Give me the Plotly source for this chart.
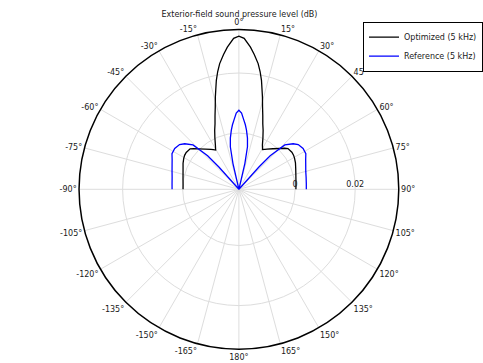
import plotly.graph_objects as go

# Angles (deg, 0 = front, negative = left) and sound pressure level values
theta_opt = [-90, -85, -80, -75, -70, -65, -60.7, -58, -55, -50.3, -48, -45, -40, -35, -33, -30.7,
             -28, -25, -22.3, -20, -18, -16, -14.3, -13, -11.7, -10.2, -8.7, -6.5, -4.65, -2,
             0, 2, 4.65, 6.5, 8.7, 10.2, 11.7, 13, 14.3, 16, 18, 20, 22.3, 25, 28,
             30.7, 33, 35, 40, 45, 48, 50.3, 55, 58, 60.7, 65, 70, 75, 80, 85, 90]
spl_opt = [-0.00013, -0.00007, 0.00017, 0.00053, 0.00106, 0.00179, 0.00233, 0.00259, 0.00269, 0.00239,
           0.00153, 0.00033, -0.00126, -0.00252, -0.00302, -0.00355,
           -0.00206, 0.00020, 0.00252, 0.00452, 0.00701, 0.00983, 0.01302, 0.01548, 0.01834, 0.02113,
           0.02362, 0.02645, 0.02877, 0.03159,
           0.03229, 0.03159, 0.02877, 0.02645, 0.02362, 0.02113, 0.01834, 0.01548, 0.01302, 0.00983,
           0.00701, 0.00452, 0.00252, 0.00020, -0.00206,
           -0.00330, -0.00285, -0.00240, -0.00110, 0.00048, 0.00170, 0.00250, 0.00280, 0.00272, 0.00250,
           0.00205, 0.00140, 0.00090, 0.00055, 0.00035, 0.00025]

theta_ref = [-90, -85, -80, -75, -70, -66, -62, -57.5, -53, -50, -46, -43, -42, -41,
             -14, -13, -11.4, -9.5, -7.3, -5.7, -4.1, -2, 0, 2, 4.1, 5.7, 7.3, 9.5, 11.4, 13, 14,
             41, 42, 43, 46, 50, 53, 57.5, 62, 66, 70, 75, 80, 85, 90]
spl_ref = [0.00352, 0.00362, 0.00385, 0.00432, 0.00495, 0.00561, 0.00651, 0.00661, 0.00601, 0.00485,
           0.00252, -0.00346, -0.00877, -0.01874,
           -0.01874, -0.00987, -0.00429, -0.00146, 0.00113, 0.00286, 0.00435, 0.00668, 0.00761,
           0.00668, 0.00435, 0.00286, 0.00113, -0.00146, -0.00429, -0.00987, -0.01874,
           -0.01874, -0.00877, -0.00346, 0.00252, 0.00485, 0.00601, 0.00661, 0.00651, 0.00561,
           0.00495, 0.00432, 0.00400, 0.00380, 0.00372]

radial_range = [-0.01874, 0.03452]
radial_ticks = [0, 0.02]
radial_ticktext = ["0", "0.02"]

angle_ticks = list(range(0, 360, 15))
angle_text = [f"{a}°" if a <= 180 else f"-{360 - a}°" for a in angle_ticks]

FONT = "DejaVu Sans"
W, H = 483, 363

fig = go.Figure()
fig.add_trace(go.Scatterpolar(r=spl_opt, theta=theta_opt, mode="lines",
                              line=dict(color="#000000", width=1.3),
                              name="Optimized (5 kHz)"))
fig.add_trace(go.Scatterpolar(r=spl_ref, theta=theta_ref, mode="lines",
                              line=dict(color="#0000ff", width=1.3),
                              name="Reference (5 kHz)"))

# legend drop shadow
fig.add_shape(type="rect", xref="paper", yref="paper",
              x0=366 / W, x1=483 / W, y0=1 - 66 / H, y1=1 - 24 / H,
              fillcolor="#9a9a9a", line=dict(width=0), layer="above")

fig.update_layout(
    width=W, height=H,
    margin=dict(l=0, r=0, t=0, b=0),
    paper_bgcolor="white",
    font=dict(family=FONT, size=8, color="#1a1a1a"),
    title=dict(text="Exterior-field sound pressure level (dB)", x=0.4958, xanchor="center",
               y=1 - 14 / H, yanchor="middle", font=dict(size=8, color="#1a1a1a")),
    polar=dict(
        domain=dict(x=[(239.4 - 160.2) / W, (239.4 + 160.2) / W],
                    y=[1 - 349.5 / H, 1 - 29.1 / H]),
        bgcolor="white",
        angularaxis=dict(rotation=90, direction="clockwise", tickmode="array",
                         tickvals=angle_ticks, ticktext=angle_text,
                         showline=True, linecolor="#000000", linewidth=1.5,
                         gridcolor="#dddddd", gridwidth=1, ticks="",
                         tickfont=dict(size=8, color="#1a1a1a")),
        radialaxis=dict(range=radial_range, tickmode="array", tickvals=radial_ticks,
                        ticktext=radial_ticktext, angle=0, side="counterclockwise",
                        showline=False, gridcolor="#dddddd", gridwidth=1, ticks="",
                        tickfont=dict(size=8, color="#1a1a1a")),
    ),
    showlegend=True,
    legend=dict(x=364 / W, y=1 - 21.7 / H, xanchor="left", yanchor="top",
                bgcolor="white", bordercolor="#000000", borderwidth=1,
                font=dict(size=8, color="#1a1a1a"), tracegroupgap=0),
)

fig.write_html("out.html")
